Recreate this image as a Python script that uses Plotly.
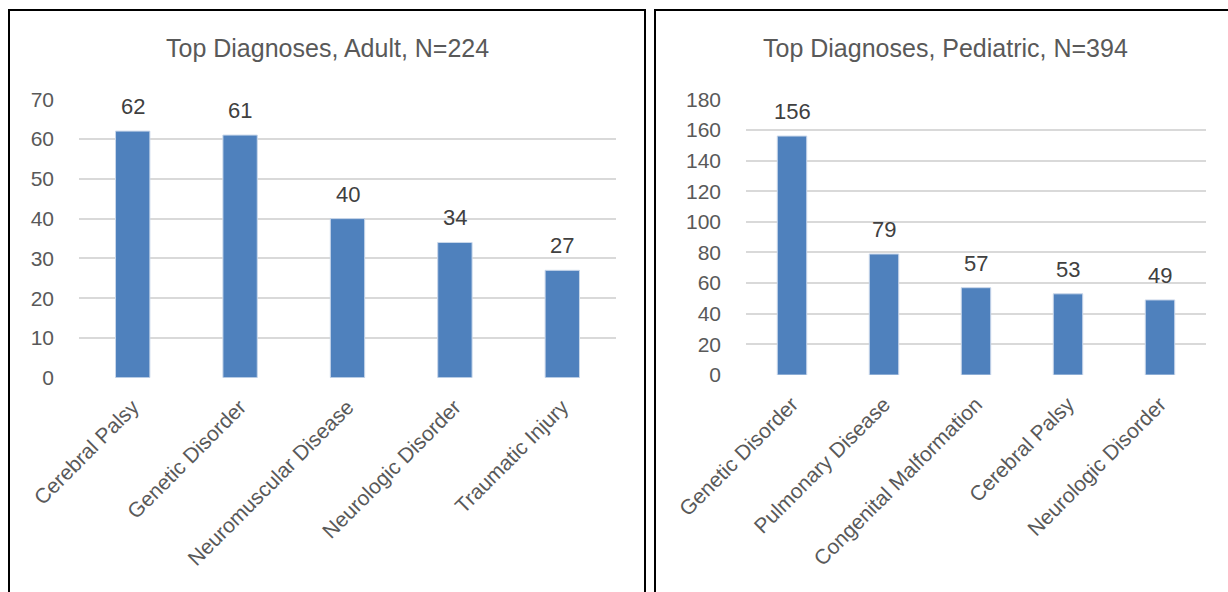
import plotly.graph_objects as go

W, H = 1228, 592

adult_categories = ["Cerebral Palsy", "Genetic Disorder", "Neuromuscular Disease",
                    "Neurologic Disorder", "Traumatic Injury"]
adult_values = [62, 61, 40, 34, 27]
adult_title = "Top Diagnoses, Adult, N=224"

ped_categories = ["Genetic Disorder", "Pulmonary Disease", "Congenital Malformation",
                  "Cerebral Palsy", "Neurologic Disorder"]
ped_values = [156, 79, 57, 53, 49]
ped_title = "Top Diagnoses, Pediatric, N=394"

adult_ticks = [0, 10, 20, 30, 40, 50, 60, 70]
ped_ticks = [0, 20, 40, 60, 80, 100, 120, 140, 160, 180]

FONT = "Liberation Sans, Arial, sans-serif"
GRAY = "#595959"
BAR = "#4F81BD"
GRID = "#D9D9D9"

fig = go.Figure()
fig.add_trace(go.Bar(x=adult_categories, y=adult_values, marker_color=BAR,
                     marker_line=dict(color="#C9D7EA", width=1),
                     xaxis="x", yaxis="y", showlegend=False, hoverinfo="x+y"))
fig.add_trace(go.Bar(x=ped_categories, y=ped_values, marker_color=BAR,
                     marker_line=dict(color="#C9D7EA", width=1),
                     xaxis="x2", yaxis="y2", showlegend=False, hoverinfo="x+y"))

def px(x):
    return x / W

def py(y):
    return (H - y) / H

axis_common = dict(showline=False, zeroline=False, ticks="", automargin=False)
xfont = dict(family=FONT, size=21, color=GRAY)
yfont = dict(family=FONT, size=21, color=GRAY)

fig.update_layout(
    width=W, height=H,
    margin=dict(l=0, r=0, t=0, b=0),
    paper_bgcolor="white", plot_bgcolor="white",
    font=dict(family=FONT, color=GRAY),
    bargap=0.68,
    xaxis=dict(domain=[px(79), px(616)], tickangle=-45, showgrid=False,
               ticklabelstandoff=12, tickfont=xfont, **axis_common),
    yaxis=dict(domain=[py(377.7), py(99.3)], range=[0, 70], tickvals=adult_ticks,
               showgrid=True, gridcolor=GRID, gridwidth=1.5,
               ticklabelstandoff=24, tickfont=yfont, **axis_common),
    xaxis2=dict(domain=[px(746), px(1206)], tickangle=-45, showgrid=False,
                ticklabelstandoff=12, anchor="y2", tickfont=xfont, **axis_common),
    yaxis2=dict(domain=[py(375), py(99.3)], range=[0, 180], tickvals=ped_ticks,
                showgrid=True, gridcolor=GRID, gridwidth=1.5, anchor="x2",
                ticklabelstandoff=24, tickfont=yfont, **axis_common),
)

# data labels
for cats, vals, xr, yr in [(adult_categories, adult_values, "x", "y"),
                           (ped_categories, ped_values, "x2", "y2")]:
    for c, v in zip(cats, vals):
        fig.add_annotation(x=c, y=v, xref=xr, yref=yr, text=str(v), showarrow=False,
                           yanchor="bottom", yshift=10,
                           font=dict(family=FONT, size=22, color="#404040"))

# titles
fig.add_annotation(x=px(327), y=py(48), xref="paper", yref="paper", text=adult_title,
                   showarrow=False, xanchor="center", yanchor="middle",
                   font=dict(family=FONT, size=25, color=GRAY))
fig.add_annotation(x=px(945), y=py(48), xref="paper", yref="paper", text=ped_title,
                   showarrow=False, xanchor="center", yanchor="middle",
                   font=dict(family=FONT, size=25, color=GRAY))

# panel borders
fig.add_shape(type="rect", xref="paper", yref="paper",
              x0=px(9), x1=px(645), y0=-0.05, y1=py(10),
              line=dict(color="black", width=2), layer="above")
fig.add_shape(type="rect", xref="paper", yref="paper",
              x0=px(655), x1=1.05, y0=-0.05, y1=py(10),
              line=dict(color="black", width=2), layer="above")

fig.write_html("out.html")
